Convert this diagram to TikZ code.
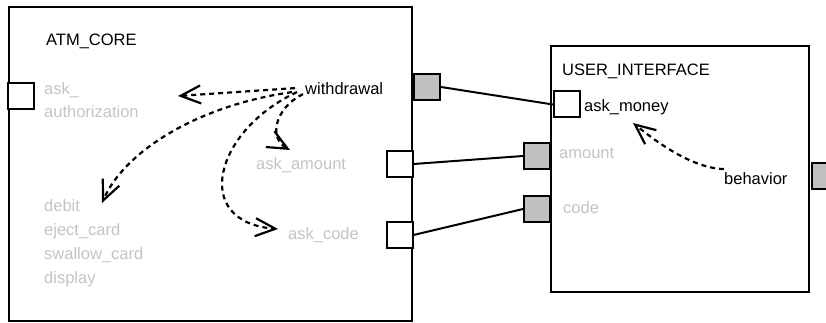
\documentclass[tikz,border=0pt]{standalone}
\usepackage{fontspec}
\setmainfont{Liberation Sans}
\usetikzlibrary{arrows.meta}

\definecolor{portgray}{RGB}{192,192,192}
\definecolor{txtgray}{RGB}{196,196,196}

\tikzset{
  port/.style={draw, line width=2pt, minimum size=26pt, inner sep=0pt, fill=white},
  gport/.style={port, fill=portgray},
  lbl/.style={anchor=base west, inner sep=0pt, font=\fontsize{16.5}{19}\selectfont},
  dim/.style={lbl, text=txtgray},
  call/.style={line width=2.2pt, dash pattern=on 5pt off 4pt,
    -{Straight Barb[length=20pt,width=18pt]}},
}

\begin{document}
\begin{tikzpicture}[x=1pt, y=-1pt]
    \useasboundingbox (0,0) rectangle (826,323);

    % the two components
    \draw[line width=2pt] (9,7) rectangle (412,321);
    \draw[line width=2pt] (551,46) rectangle (809,292);

    % ATM_CORE texts
    \node[lbl] (core) at (46,46) {ATM\_CORE};
    \node[dim] (auth1) at (44,95) {ask\_};
    \node[dim] (auth2) at (44,118) {authorization};
    \node[lbl] (wd) at (305,95) {withdrawal};
    \node[dim] (askamt) at (256,170) {ask\_amount};
    \node[dim] (debit) at (44,211) {debit};
    \node[dim] (eject) at (44,235) {eject\_card};
    \node[dim] (swallow) at (44,259) {swallow\_card};
    \node[dim] (disp) at (44,283) {display};
    \node[dim] (askcode) at (288,239) {ask\_code};

    % USER_INTERFACE texts
    \node[lbl] (ui) at (562,76) {USER\_INTERFACE};
    \node[lbl] (money) at (584,112) {ask\_money};
    \node[dim] (amt) at (559,159) {amount};
    \node[dim] (code) at (563,213) {code};
    \node[lbl] (bh) at (724,184) {behavior};

    % ports
    \node[port] (pAuth) at (21,96) {};
    \node[gport] (pWd) at (427,87) {};
    \node[port] (pAskAmt) at (399.5,164) {};
    \node[port] (pAskCode) at (399.5,235) {};
    \node[port] (pMoney) at (567,104.5) {};
    \node[gport] (pAmt) at (537,156) {};
    \node[gport] (pCode) at (537,209) {};
    \node[gport] (pBh) at (825,176) {};

    % connectors between the components
    \draw[line width=2pt] (pWd.east) -- (pMoney.west);
    \draw[line width=2pt] (pAskAmt.east) -- (pAmt.west);
    \draw[line width=2pt] (pAskCode.east) -- (pCode.west);

    % free ends of the calls
    \coordinate (tAuth) at (178,96);
    \coordinate (tDebit) at (102,203);
    \coordinate (tAmt) at (290,150);
    \coordinate (tCode) at (278,229);
    \coordinate (tMoney) at (633,123);

    % calls made by withdrawal
    \draw[call] ([xshift=-10pt,yshift=1pt]wd.west) -- (tAuth);
    \draw[call] ([xshift=-13pt,yshift=-3pt]wd.west) .. controls (200,105) and (125,150) .. (tDebit);
    \draw[call] ([xshift=-2pt,yshift=-5pt]wd.west) .. controls (275,108) and (268,138) .. (tAmt);
    \draw[call] ([xshift=-8pt,yshift=-3pt]wd.west) .. controls (215,130) and (190,222) .. (tCode);

    % call made by behavior
    \draw[call] ([yshift=9pt]bh.west) .. controls (690,168) and (653,139) .. (tMoney);
\end{tikzpicture}
\end{document}
